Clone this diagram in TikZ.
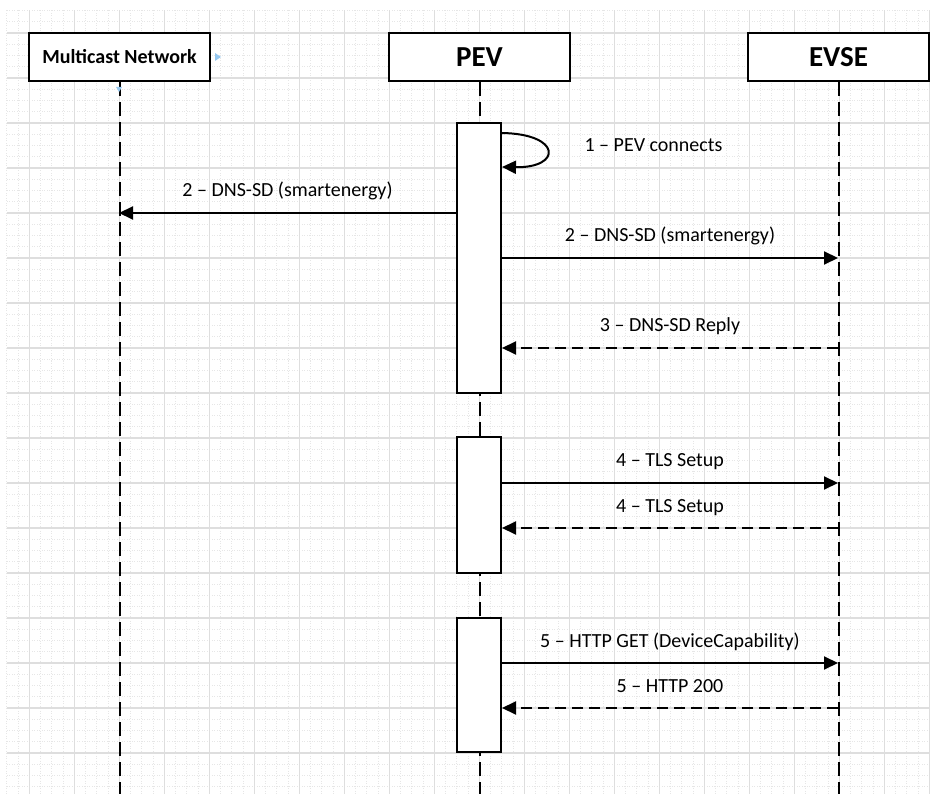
\documentclass[tikz,border=0pt]{standalone}
\usepackage{fontspec}
\setmainfont{Carlito}
\usetikzlibrary{arrows.meta}
\usetikzlibrary{positioning}
\usetikzlibrary{calc}

\definecolor{gridminor}{RGB}{230,230,230}
\definecolor{gridmajor}{RGB}{222,222,222}
\definecolor{handleblue}{RGB}{150,200,240}

\tikzset{
  actor/.style={draw, fill=white, line width=2pt, minimum width=181pt, minimum height=48pt, inner sep=0pt, font=\fontsize{29}{34}\selectfont\bfseries},
  lifeline/.style={line width=2pt, dash pattern=on 14pt off 6pt},
  activation/.style={draw, fill=white, line width=2pt, minimum width=44pt, inner sep=0pt},
  msg/.style={line width=2pt, -{Triangle[length=14pt,width=13pt]}},
  reply/.style={msg, dash pattern=on 11pt off 6pt},
  msglabel/.style={anchor=base, yshift=16pt, font=\fontsize{20}{24}\selectfont},
}

\begin{document}
\begin{tikzpicture}[x=1pt, y=-1pt]
  \useasboundingbox (0,0) rectangle (930,794);

  % background grid
  \foreach \i in {0,...,82} {
    \draw[gridminor, line width=0.8pt, dash pattern=on 1pt off 1.5pt] (6.75+11.25*\i, 10.5) -- (6.75+11.25*\i, 794);
  }
  \foreach \j in {0,...,69} {
    \draw[gridminor, line width=0.8pt, dash pattern=on 1pt off 1.5pt] (6.75, 10.5+11.25*\j) -- (930, 10.5+11.25*\j);
  }
  \foreach \i in {0,...,20} {
    \draw[gridmajor, line width=1.5pt] (29.25+45*\i, 10.5) -- (29.25+45*\i, 794);
  }
  \foreach \j in {0,...,16} {
    \draw[gridmajor, line width=1.5pt] (6.75, 33+45*\j) -- (930, 33+45*\j);
  }

  \coordinate (bottom) at (0,794);

  % actors
  \node[actor, font=\fontsize{20}{24}\selectfont\bfseries] (mcast) at (119.5,57) {Multicast Network};
  \node[actor] (pev) at (479.5,57) {PEV};
  \node[actor] (evse) at (838.5,57) {EVSE};

  \draw[lifeline] (mcast.south) -- (mcast.south |- bottom);
  \draw[lifeline] (pev.south) -- (pev.south |- bottom);
  \draw[lifeline] (evse.south) -- (evse.south |- bottom);

  % connection handles
  \fill[handleblue] (215,53) -- (221,57) -- (215,61) -- cycle;
  \fill[handleblue] (116,87) -- (122,87) -- (119,92) -- cycle;

  % activations
  \node[activation, minimum height=270pt] (act1) at (479,258) {};
  \node[activation, minimum height=135pt] (act2) at (479,505) {};
  \node[activation, minimum height=134pt] (act3) at (479,685) {};

  % message ends on the lifelines
  \coordinate (m2a) at (119,213);
  \coordinate (m2b) at (838,258);
  \coordinate (m3) at (838,348);
  \coordinate (m4a) at (838,483);
  \coordinate (m4b) at (838,528);
  \coordinate (m5a) at (838,663);
  \coordinate (m5b) at (838,708);

  \draw[msg] ([yshift=-11pt]act1.north east) .. controls (562,134) and (562,168) .. ([yshift=-45pt]act1.north east);
  \node[anchor=base west, font=\fontsize{20}{24}\selectfont] (l1) at (581,152) {1 -- PEV connects};

  \draw[msg] (act1.west |- m2a) -- node[msglabel] {2 -- DNS-SD (smartenergy)} (m2a);
  \draw[msg] (act1.east |- m2b) -- node[msglabel] {2 -- DNS-SD (smartenergy)} (m2b);
  \draw[reply] (m3) -- node[msglabel] {3 -- DNS-SD Reply} (act1.east |- m3);

  \draw[msg] (act2.east |- m4a) -- node[msglabel] {4 -- TLS Setup} (m4a);
  \draw[reply] (m4b) -- node[msglabel] {4 -- TLS Setup} (act2.east |- m4b);

  \draw[msg] (act3.east |- m5a) -- node[msglabel] {5 -- HTTP GET (DeviceCapability)} (m5a);
  \draw[reply] (m5b) -- node[msglabel] {5 -- HTTP 200} (act3.east |- m5b);

\end{tikzpicture}
\end{document}
